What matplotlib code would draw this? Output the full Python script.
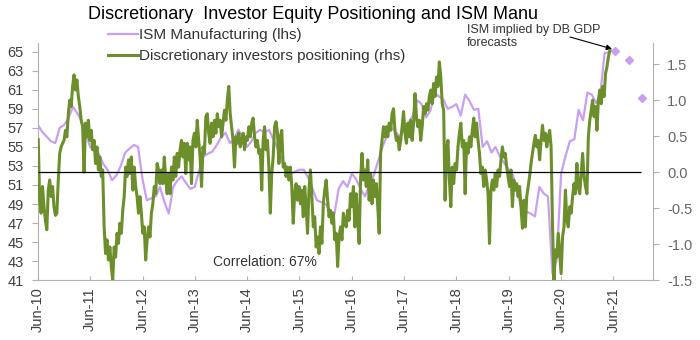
import pandas as pd
import matplotlib.pyplot as plt
import matplotlib.dates as mdates

# ======================================================
# DATA
# ======================================================
ISM_START = "2010-06-01"
ism_manufacturing = [
    57.3, 56.6, 56.1, 55.6, 55.4, 57.0, 57.3,                  # Jun-Dec 2010
    58.0, 59.2, 58.6, 57.8, 56.5, 55.0, 54.6, 54.3, 53.2, 52.6, 51.5, 52.0,   # 2011
    53.0, 54.4, 54.8, 55.2, 55.0, 51.6, 49.4, 49.6, 49.8, 50.8, 49.2, 48.0,   # 2012
    50.8, 51.5, 51.9, 51.2, 50.6, 50.8, 52.5, 54.0, 54.3, 54.5, 55.2, 56.0,   # 2013
    56.5, 55.4, 55.8, 56.8, 56.0, 55.0, 55.6, 56.5, 56.8, 56.5, 56.8, 55.8,   # 2014
    54.8, 53.5, 52.8, 52.2, 52.4, 52.6, 52.6, 51.8, 50.6, 49.4, 49.2, 49.0,   # 2015
    48.3, 48.0, 50.6, 51.4, 50.8, 52.2, 51.6, 50.6, 49.8, 51.0, 52.0, 53.5,   # 2016
    55.0, 56.2, 57.1, 56.6, 56.1, 56.8, 57.5, 58.3, 59.9, 59.5, 58.1, 58.8,   # 2017
    60.6, 60.3, 60.0, 59.0, 59.2, 59.5, 58.3, 60.5, 59.8, 58.9, 59.0, 55.0,   # 2018
    55.6, 54.4, 55.0, 54.0, 53.3, 52.6, 52.0, 50.1, 48.4, 48.2, 48.0, 47.7,   # 2019
    50.8, 50.1, 49.8, 41.7, 43.1, 52.2, 54.0, 55.6, 55.8, 58.9, 57.8, 60.7,   # 2020
    60.5, 59.6, 60.5, 64.9, 64.9,                                             # 2021
]

forecast_dates = ["2021-06-15", "2021-09-15", "2021-12-15"]
ism_forecast = [65.1, 64.1, 60.1]

POS_START = "2010-06-04"   # roughly every 10 days
positioning = [
    0.45, -0.39, -0.57, -0.2, -0.48, -0.67, -0.8, -0.25, -0.11, -0.34,
    -0.2, -0.48, -0.6, -0.57, -0.11, 0.26, 0.35, 0.4, 0.44, 0.58,
    0.49, 0.81, 1.0, 0.91, 1.19, 1.35, 1.14, 1.28, 1.05, 0.91,
    0.72, 0.63, 0.0, 0.68, 0.49, 0.72, 0.44, 0.58, 0.31, 0.44,
    0.12, 0.35, 0.03, 0.21, -0.06, 0.03, -0.76, -1.13, -0.94, -1.22,
    -1.04, -1.31, -1.5, -1.04, -1.18, -0.85, -0.99, -0.71, -0.85, -0.53,
    -0.34, 0.07, -0.06, 0.17, -0.02, 0.21, -0.25, 0.07, -0.2, -0.34,
    -0.57, -0.34, -0.57, -0.85, -0.76, -1.22, -0.94, -0.76, -0.9, -0.57,
    -0.44, -0.2, -0.3, 0.12, 0.03, -0.16, 0.03, -0.16, 0.21, -0.11,
    -0.3, -0.02, -0.3, 0.07, -0.11, 0.21, -0.06, 0.26, 0.07, 0.31,
    0.44, 0.21, 0.4, -0.02, 0.4, 0.17, 0.35, -0.16, 0.44, 0.54,
    0.35, 0.72, 0.44, 0.21, -0.2, 0.35, 0.26, 0.77, 0.81, 0.54,
    0.4, 0.68, 0.49, 0.72, 0.54, 0.81, 0.63, 0.72, 0.49, 0.68,
    0.86, 0.72, 1.0, 1.19, 0.81, 0.63, 0.44, 0.07, 0.49, 0.4,
    0.54, 0.35, 0.44, 0.54, 0.31, 0.49, 0.44, 0.63, 0.49, 0.68,
    0.75, 0.49, 0.35, 0.44, 0.26, 0.31, -0.25, 0.44, 0.63, 0.31,
    0.44, 0.07, -0.57, -0.02, 0.21, 0.63, 0.7, 0.54, 0.12, 0.49,
    0.58, 0.07, 0.12, -0.06, 0.07, -0.11, 0.07, -0.2, -0.71, -0.3,
    -0.16, -0.39, -0.2, -0.44, -0.25, -0.62, -0.2, -0.48, -0.85, -0.25,
    0.03, -0.34, -0.76, -0.62, -1.04, -0.9, -1.13, -0.76, -0.99, -0.44,
    -0.25, -0.11, -0.39, -0.62, -0.53, -0.71, -0.57, -0.94, -0.85, -1.31,
    -0.9, -0.76, -0.94, -0.57, -0.71, -0.76, -0.53, -0.67, -0.3, -0.48,
    -0.2, -0.76, -0.3, -0.67, -0.99, -0.11, 0.26, -0.11, 0.03, -0.2,
    0.17, -0.39, -0.02, -0.44, -0.11, -0.34, -0.16, -0.48, -0.85, 0.26,
    0.44, 0.63, 0.49, 0.63, 0.49, 0.68, 0.58, 0.81, 0.88, 0.58,
    0.44, 0.49, 0.31, 0.44, 0.63, 0.84, 0.54, 0.4, 0.68, 0.49,
    0.72, 0.44, 0.68, 1.09, 0.77, 0.63, 0.72, 0.44, 0.63, 0.91,
    0.81, 0.95, 0.86, 1.05, 1.14, 0.95, 1.23, 1.05, 1.32, 1.19,
    1.53, 1.32, 0.95, 0.86, -0.39, 0.31, 0.44, -0.11, -0.48, 0.07,
    -0.16, 0.12, 0.03, 0.35, 0.54, 0.68, 0.35, 0.44, -0.3, 0.4,
    0.26, 0.49, 0.35, 0.58, 0.75, 0.49, 0.68, 0.44, 0.26, -0.02,
    0.07, -0.2, 0.03, -0.11, -0.3, -0.99, -0.25, -0.11, -0.25, -0.02,
    -0.2, 0.03, -0.06, 0.17, 0.35, 0.21, 0.26, 0.07, -0.06, -0.2,
    0.03, -0.48, -0.11, -0.25, -0.16, -0.34, -0.2, -0.48, -0.78, -0.39,
    -0.76, -0.34, -0.2, -0.06, 0.12, 0.26, 0.4, 0.51, 0.35, 0.44,
    0.17, 0.44, 0.65, 0.44, 0.54, 0.35, 0.49, 0.58, 0.35, -0.76,
    -1.5, -1.08, -1.18, -0.85, -1.13, -1.41, -0.9, -0.76, -0.25, -0.67,
    -0.76, -0.48, -0.57, -0.34, -0.16, -0.3, 0.12, -0.2, -0.3, -0.02,
    0.26, -0.06, -0.2, -0.3, 0.49, 0.72, 0.86, 1.0, 0.77, 0.91,
    0.58, 1.0, 1.14, 0.95, 1.19, 1.05, 1.37, 1.46, 1.6, 1.69,
]

PURPLE = "#c89ff2"
GREEN = "#6c8f2c"
GREY_TXT = "#404040"

plt.rcParams["font.family"] = ["Liberation Sans", "DejaVu Sans"]

ism_dates = pd.date_range(ISM_START, periods=len(ism_manufacturing), freq="MS")
pos_dates = pd.date_range(POS_START, periods=len(positioning), freq="10D")
fc_dates = pd.to_datetime(forecast_dates)

# ======================================================
# PLOT
# ======================================================
fig = plt.figure(figsize=(7, 3.4), dpi=100)
ax = fig.add_axes([0.054, 0.176, 0.879, 0.697])
ax2 = ax.twinx()

l1, = ax.plot(ism_dates, ism_manufacturing, color=PURPLE, lw=1.6,
              label="ISM Manufacturing (lhs)")
ax.plot(fc_dates, ism_forecast, ls="none", marker="D", ms=4.5,
        color=PURPLE, mec=PURPLE)

l2, = ax2.plot(pos_dates, positioning, color=GREEN, lw=2.2,
               label="Discretionary investors positioning (rhs)")
ax2.hlines(0, pd.Timestamp("2010-06-01"), pd.Timestamp("2021-12-10"),
           color="black", lw=0.9)

ax.set_xlim(pd.Timestamp("2010-06-01"), pd.Timestamp("2022-03-05"))
ax.set_ylim(41, 65.9)
ax.set_yticks(range(41, 66, 2))
ax2.set_ylim(-1.5, 1.79)
ax2.set_yticks([-1.5, -1.0, -0.5, 0.0, 0.5, 1.0, 1.5])
ax2.set_yticklabels(["-1.5", "-1.0", "-0.5", "0.0", "0.5", "1.0", "1.5"])

ax.xaxis.set_major_locator(mdates.MonthLocator(bymonth=6, bymonthday=1))
ax.xaxis.set_major_formatter(mdates.DateFormatter("%b-%y"))
plt.setp(ax.get_xticklabels(), rotation=90)

for a in (ax, ax2):
    a.spines["top"].set_visible(False)
    for s in ("left", "right", "bottom"):
        a.spines[s].set_color("#b0b0b0")
ax.spines["right"].set_visible(False)
ax2.spines["left"].set_visible(False)
ax2.spines["bottom"].set_visible(False)

ax.tick_params(axis="y", length=4, color="#b0b0b0", labelsize=10.5,
               labelcolor=GREY_TXT, pad=6)
ax.tick_params(axis="x", direction="in", length=3, color="#b0b0b0",
               labelsize=10.5, labelcolor=GREY_TXT, pad=5)
ax2.tick_params(axis="y", length=4, color="#b0b0b0", labelsize=10.5,
                labelcolor="#666666", pad=6)

fig.text(0.447, 0.958, "Discretionary  Investor Equity Positioning and ISM Manu",
         ha="center", va="center", fontsize=13, color="black")

fig.legend(handles=[l1, l2], loc="upper left", bbox_to_anchor=(0.145, 0.935),
           frameon=False, fontsize=11, handlelength=2.0, handletextpad=0.05,
           labelspacing=0.45, borderaxespad=0, labelcolor="#333333")

ax.text(0.6671, 0.929, "ISM implied by DB GDP\nforecasts",
        transform=fig.transFigure, ha="left", va="top", fontsize=9,
        color="#333333", linespacing=1.1)
ax.annotate("", xy=(pd.Timestamp("2021-05-22"), 65.3),
            xytext=(570, 303), textcoords="figure pixels",
            arrowprops=dict(arrowstyle="-|>", color="black", lw=0.8,
                            shrinkA=0, shrinkB=0, mutation_scale=8))

ax.text(pd.Timestamp("2013-10-05"), 42.9, "Correlation: 67%", fontsize=10,
        color="#333333", ha="left", va="center")

fig.savefig("out.png", dpi=100)
